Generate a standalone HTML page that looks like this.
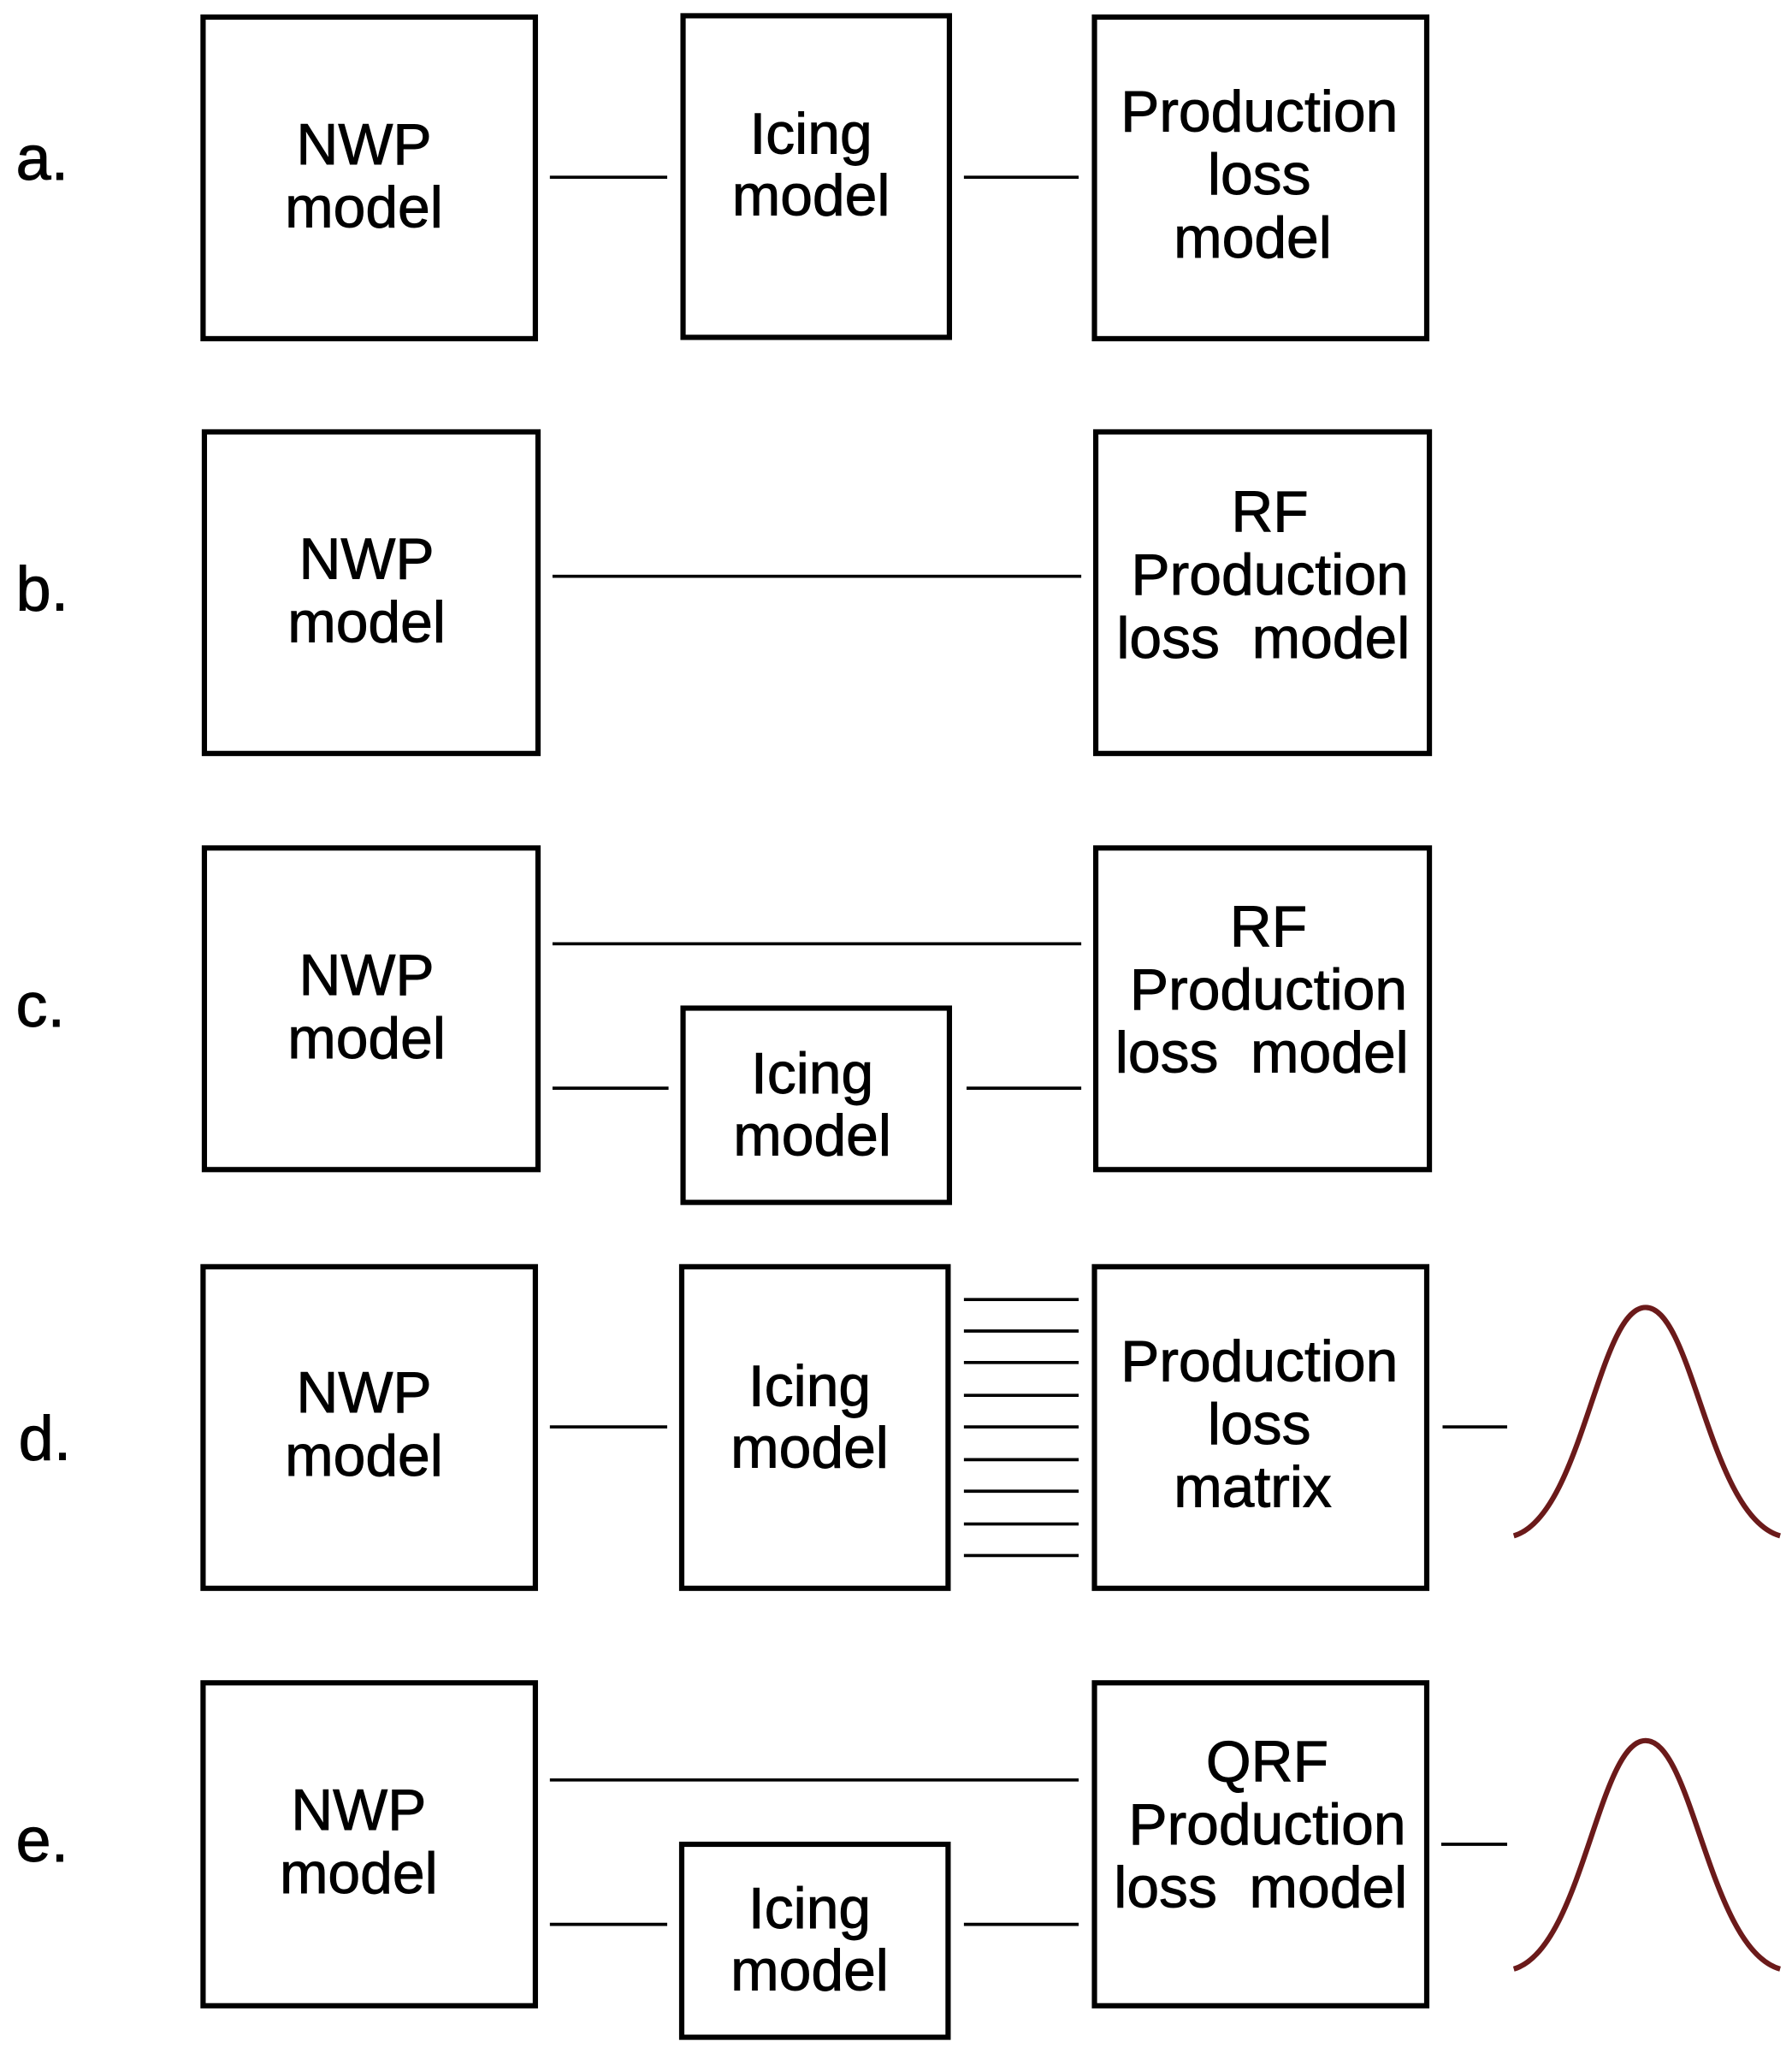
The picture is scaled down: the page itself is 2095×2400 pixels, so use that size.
<!DOCTYPE html>
<html><head><style>html,body{margin:0;padding:0;background:#fff}svg{display:block}</style></head>
<body>
<svg width="2095" height="2400" viewBox="0 0 1359 1564" preserveAspectRatio="none" xmlns="http://www.w3.org/2000/svg">
<g fill="none" stroke="#000" stroke-width="4">
<rect x="154" y="13" width="252" height="245"/>
<rect x="518" y="12" width="202" height="245"/>
<rect x="830" y="13" width="252" height="245"/>
<rect x="155" y="329" width="253" height="245"/>
<rect x="831" y="329" width="253" height="245"/>
<rect x="155" y="646" width="253" height="245"/>
<rect x="831" y="646" width="253" height="245"/>
<rect x="518" y="768" width="202" height="148"/>
<rect x="154" y="965" width="252" height="245"/>
<rect x="517" y="965" width="202" height="245"/>
<rect x="830" y="965" width="252" height="245"/>
<rect x="154" y="1282" width="252" height="246"/>
<rect x="830" y="1282" width="252" height="246"/>
<rect x="517" y="1405" width="202" height="147"/>
</g>
<g stroke="#000" stroke-width="2.4">
<line x1="417" y1="135" x2="506" y2="135"/><line x1="731" y1="135" x2="818" y2="135"/>
<line x1="419" y1="439" x2="820" y2="439"/>
<line x1="419" y1="719" x2="820" y2="719"/>
<line x1="419" y1="829" x2="507" y2="829"/><line x1="733" y1="829" x2="820" y2="829"/>
<line x1="417" y1="1087" x2="506" y2="1087"/>
<line x1="731" y1="990" x2="818" y2="990"/><line x1="731" y1="1014" x2="818" y2="1014"/>
<line x1="731" y1="1038" x2="818" y2="1038"/><line x1="731" y1="1063" x2="818" y2="1063"/>
<line x1="731" y1="1087" x2="818" y2="1087"/><line x1="731" y1="1112" x2="818" y2="1112"/>
<line x1="731" y1="1136" x2="818" y2="1136"/><line x1="731" y1="1161" x2="818" y2="1161"/>
<line x1="731" y1="1185" x2="818" y2="1185"/>
<line x1="1094" y1="1087" x2="1143" y2="1087"/>
<line x1="417" y1="1356" x2="818" y2="1356"/>
<line x1="417" y1="1466" x2="506" y2="1466"/><line x1="731" y1="1466" x2="818" y2="1466"/>
<line x1="1093" y1="1405" x2="1143" y2="1405"/>
</g>
<g fill="none" stroke="#6b1a1a" stroke-width="4">
<path d="M1148,1170 C1200,1155 1212,996 1248,996 C1284,996 1296,1155 1350,1170"/>
<path d="M1148,1500 C1200,1485 1212,1326 1248,1326 C1284,1326 1296,1485 1350,1500"/>
</g>
<g font-family="Liberation Sans, sans-serif" font-size="44" text-anchor="middle" fill="#000" stroke="#000" stroke-width="0.6">
<text x="276" y="125">NWP</text><text x="276" y="173">model</text>
<text x="615" y="117">Icing</text><text x="615" y="164">model</text>
<text x="955" y="100">Production</text><text x="955" y="148">loss</text><text x="950" y="196">model</text>
<text x="278" y="441">NWP</text><text x="278" y="489">model</text>
<text x="963" y="405">RF</text><text x="963" y="453">Production</text><text x="958" y="501">loss&#160; model</text>
<text x="278" y="758">NWP</text><text x="278" y="806">model</text>
<text x="962" y="721">RF</text><text x="962" y="769">Production</text><text x="957" y="817">loss&#160; model</text>
<text x="616" y="833">Icing</text><text x="616" y="880">model</text>
<text x="276" y="1076">NWP</text><text x="276" y="1124">model</text>
<text x="614" y="1071">Icing</text><text x="614" y="1118">model</text>
<text x="955" y="1052">Production</text><text x="955" y="1100">loss</text><text x="950" y="1148">matrix</text>
<text x="272" y="1394">NWP</text><text x="272" y="1442">model</text>
<text x="961" y="1357">QRF</text><text x="961" y="1405">Production</text><text x="956" y="1453">loss&#160; model</text>
<text x="614" y="1469">Icing</text><text x="614" y="1516">model</text>
</g>
<g font-family="Liberation Sans, sans-serif" font-size="48" fill="#000" stroke="#000" stroke-width="0.6">
<text x="12" y="137">a.</text>
<text x="12" y="465">b.</text>
<text x="12" y="782">c.</text>
<text x="14" y="1112">d.</text>
<text x="12" y="1418">e.</text>
</g>
</svg>
</body></html>
